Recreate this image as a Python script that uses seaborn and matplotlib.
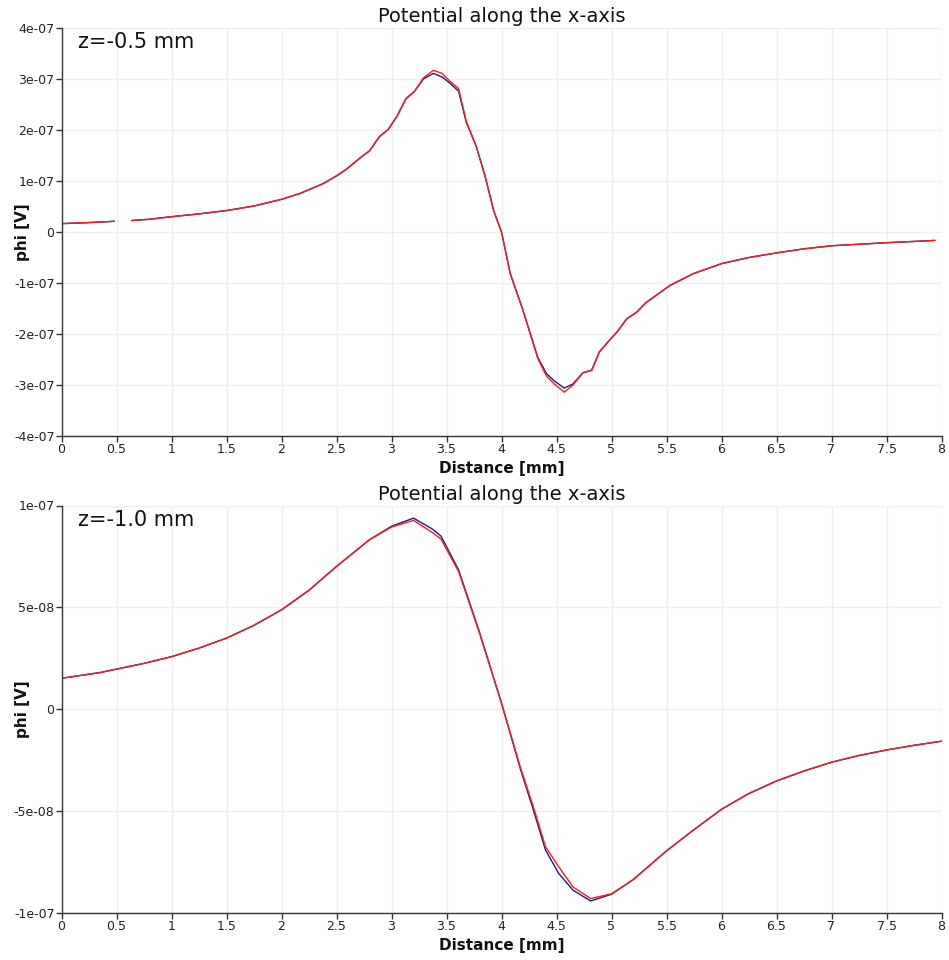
import numpy as np
import pandas as pd
import matplotlib
matplotlib.use("Agg")
import matplotlib.pyplot as plt
import seaborn as sns

# ---------------- data ----------------
x_top = [0.0, 0.2, 0.35, 0.48, 0.56, 0.64, 0.8, 1.0, 1.25, 1.5, 1.75, 2.0, 2.17, 2.38,
         2.5, 2.59, 2.73, 2.80, 2.89, 2.97, 3.05, 3.13, 3.21, 3.29, 3.38, 3.46, 3.53,
         3.61, 3.68, 3.77, 3.85, 3.93, 4.0, 4.08, 4.19, 4.33, 4.41, 4.48, 4.57, 4.65,
         4.74, 4.82, 4.89, 4.97, 5.05, 5.14, 5.23, 5.31, 5.42, 5.53, 5.74, 6.0, 6.25,
         6.5, 6.75, 7.0, 7.25, 7.5, 7.75, 7.94]
# units of 1e-7 V
red_top = [0.164, 0.18, 0.195, 0.21, np.nan, 0.225, 0.25, 0.30, 0.355, 0.42, 0.51, 0.64,
           0.757, 0.95, 1.10, 1.23, 1.48, 1.59, 1.87, 2.01, 2.27, 2.61, 2.76, 3.02, 3.17,
           3.11, 2.96, 2.81, 2.17, 1.68, 1.10, 0.41, 0.0, -0.82, -1.50, -2.48, -2.83,
           -2.98, -3.14, -3.00, -2.76, -2.71, -2.35, -2.15, -1.96, -1.70, -1.57, -1.39,
           -1.22, -1.05, -0.82, -0.62, -0.50, -0.41, -0.33, -0.27, -0.24, -0.21, -0.185,
           -0.165]
blue_top = [0.164, 0.18, 0.195, 0.21, np.nan, 0.225, 0.25, 0.30, 0.355, 0.42, 0.51, 0.64,
            0.757, 0.95, 1.10, 1.23, 1.48, 1.59, 1.87, 2.01, 2.27, 2.61, 2.76, 3.00, 3.11,
            3.04, 2.92, 2.76, 2.15, 1.68, 1.10, 0.41, 0.0, -0.82, -1.50, -2.46, -2.78,
            -2.92, -3.06, -2.98, -2.76, -2.71, -2.35, -2.15, -1.96, -1.70, -1.57, -1.39,
            -1.22, -1.05, -0.82, -0.62, -0.50, -0.41, -0.33, -0.27, -0.24, -0.21, -0.185,
            -0.165]

x_bot = [0.0, 0.2, 0.35, 0.5, 0.75, 1.0, 1.25, 1.5, 1.75, 2.0, 2.25, 2.5, 2.8, 3.0, 3.2,
         3.37, 3.45, 3.61, 3.8, 4.0, 4.17, 4.29, 4.40, 4.52, 4.65, 4.81, 5.0, 5.2, 5.5,
         5.74, 6.0, 6.24, 6.5, 6.75, 7.0, 7.25, 7.5, 7.75, 8.0]
# units of 1e-8 V
red_bot = [1.52, 1.68, 1.80, 1.97, 2.25, 2.58, 3.00, 3.49, 4.12, 4.88, 5.84, 7.01, 8.32,
           8.94, 9.27, 8.68, 8.35, 6.76, 3.73, 0.30, -2.82, -4.79, -6.75, -7.73, -8.72,
           -9.29, -9.06, -8.35, -6.95, -5.95, -4.91, -4.16, -3.52, -3.03, -2.60, -2.27,
           -2.00, -1.77, -1.57]
blue_bot = [1.52, 1.68, 1.80, 1.97, 2.25, 2.58, 3.00, 3.49, 4.12, 4.88, 5.84, 7.01, 8.32,
            8.98, 9.38, 8.85, 8.50, 6.84, 3.78, 0.30, -2.90, -4.95, -6.91, -8.06, -8.88,
            -9.41, -9.08, -8.35, -6.95, -5.95, -4.91, -4.16, -3.52, -3.03, -2.60, -2.27,
            -2.00, -1.77, -1.57]

x_ticks = [0, 0.5, 1, 1.5, 2, 2.5, 3, 3.5, 4, 4.5, 5, 5.5, 6, 6.5, 7, 7.5, 8]
x_ticklabels = ["0", "0.5", "1", "1.5", "2", "2.5", "3", "3.5", "4", "4.5", "5",
                "5.5", "6", "6.5", "7", "7.5", "8"]
y_ticks_top = [-4e-07, -3e-07, -2e-07, -1e-07, 0, 1e-07, 2e-07, 3e-07, 4e-07]
y_ticklabels_top = ["-4e-07", "-3e-07", "-2e-07", "-1e-07", "0", "1e-07", "2e-07",
                    "3e-07", "4e-07"]
y_ticks_bot = [-1e-07, -5e-08, 0, 5e-08, 1e-07]
y_ticklabels_bot = ["-1e-07", "-5e-08", "0", "5e-08", "1e-07"]

title = "Potential along the x-axis"
xlabel = "Distance [mm]"
ylabel = "phi [V]"
labels = ["z=-0.5 mm", "z=-1.0 mm"]


def make_frame(x, blue, red, scale):
    rows = []
    for name, vals in (("blue", blue), ("red", red)):
        seg = 0
        for xi, vi in zip(x, vals):
            if np.isnan(vi):
                seg += 1
                continue
            rows.append({"x": xi, "phi": vi * scale, "series": name, "seg": seg})
    return pd.DataFrame(rows)


df_top = make_frame(x_top, blue_top, red_top, 1e-7)
df_bot = make_frame(x_bot, blue_bot, red_bot, 1e-8)

sns.set_theme(style="white")
plt.rcParams["font.family"] = ["DejaVu Sans"]

W, H = 949, 960
fig = plt.figure(figsize=(W / 100, H / 100), dpi=100)

def px_axes(left, top, right, bottom):
    return fig.add_axes([left / W, 1 - bottom / H, (right - left) / W, (bottom - top) / H])

ax1 = px_axes(61.5, 28, 941.5, 436)
ax2 = px_axes(61.5, 505.5, 941.5, 913)

palette = {"blue": "#1a1a8c", "red": "#ff1a1a"}

for ax, df, yt, ytl, lab in ((ax1, df_top, y_ticks_top, y_ticklabels_top, labels[0]),
                             (ax2, df_bot, y_ticks_bot, y_ticklabels_bot, labels[1])):
    sns.lineplot(data=df, x="x", y="phi", hue="series", units="seg", estimator=None,
                 hue_order=["blue", "red"], palette=palette, linewidth=1.0,
                 legend=False, sort=False, ax=ax)
    ax.set_xlim(0, 8)
    ax.set_ylim(yt[0], yt[-1])
    ax.set_xticks(x_ticks)
    ax.set_xticklabels(x_ticklabels)
    ax.set_yticks(yt)
    ax.set_yticklabels(ytl)
    ax.grid(True, color="#efefef", linewidth=1.0)
    ax.set_axisbelow(True)
    for s in ("top", "right"):
        ax.spines[s].set_visible(False)
    for s in ("left", "bottom"):
        ax.spines[s].set_color("#333333")
        ax.spines[s].set_linewidth(1.0)
    ax.tick_params(axis="both", direction="out", length=4, width=1, color="#333333",
                   labelsize=9, labelcolor="#222222", pad=1, bottom=True, left=True)
    ax.set_xlabel(xlabel, fontsize=11, fontweight="bold", color="#111111")
    ax.set_ylabel(ylabel, fontsize=11, fontweight="bold", color="#111111")
    ax.xaxis.set_label_coords(0.5, -33 / 408, transform=ax.transAxes)
    ax.yaxis.set_label_coords(-39.5 / 880, 0.5, transform=ax.transAxes)
    ax.xaxis.label.set_va("center")
    ax.yaxis.label.set_va("center")
    ax.set_title(title, fontsize=14, pad=4, color="#111111")
    ax.text(0.019, 0.965, lab, transform=ax.transAxes, fontsize=15, va="center",
            ha="left", color="#111111")

fig.savefig("out.png", dpi=100)
